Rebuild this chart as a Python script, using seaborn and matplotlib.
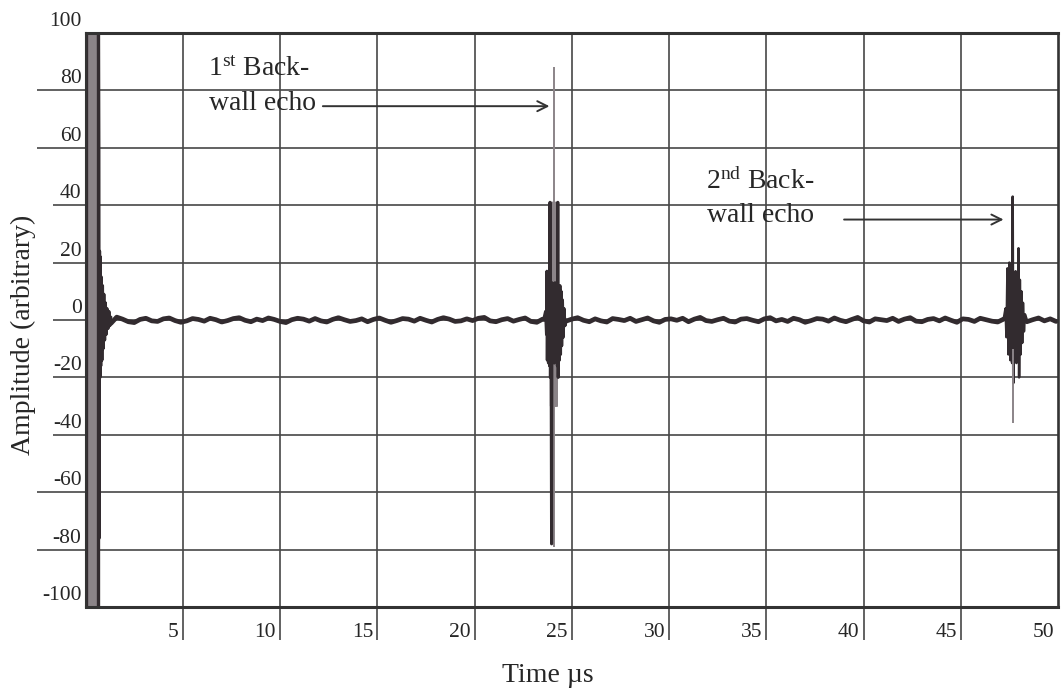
import numpy as np
import pandas as pd
import matplotlib
matplotlib.use("Agg")
import matplotlib.pyplot as plt
import matplotlib.transforms as mtransforms
import seaborn as sns

# ---------------- data ----------------
x_tick_values = [5, 10, 15, 20, 25, 30, 35, 40, 45]
x_label_values = [5, 10, 15, 20, 25, 30, 35, 40, 45, 50]
y_label_values = [-100, -80, -60, -40, -20, 0, 20, 40, 60, 80, 100]
y_tick_values = [-80, -60, -40, -20, 0, 20, 40, 60, 80]
y_tick_long = [-80, -60, 60, 80]

# baseline noise, sampled every 0.3 us from 1.0 us
noise_start = 1.0
noise_step = 0.3
noise_amp = [
    2.0, -1.2, 1.0, 0.3, -0.6, -0.9, 0.2, 0.6, -0.3, -0.5,
    0.4, 0.7, -0.2, -0.8, -0.3, 0.5, 0.2, -0.4, 0.6, 0.1,
    -0.7, -0.2, 0.5, 0.8, -0.1, -0.6, 0.3, -0.2, 0.7, 0.2,
    -0.5, -0.9, 0.1, 0.6, 0.3, -0.4, 0.5, -0.3, -0.7, 0.2,
    0.8, 0.1, -0.5, -0.2, 0.4, -0.6, 0.2, 0.7, -0.1, -0.8,
    -0.2, 0.5, 0.3, -0.4, 0.6, -0.1, -0.7, 0.2, 0.8, 0.3,
    -0.5, -0.3, 0.4, -0.2, 0.6, 0.9, -0.3, -0.6, 0.1, 0.5,
    -0.4, 0.2, 0.7, -0.5, -0.8, 0.3, 0.1, -0.2, 0.6, -0.4,
    0.3, 0.8, -0.1, -0.6, 0.4, -0.3, -0.7, 0.5, 0.2, -0.2,
    0.6, -0.5, 0.1, 0.7, -0.3, -0.8, 0.2, 0.4, -0.1, 0.6,
    -0.6, 0.3, 0.9, -0.2, -0.5, 0.1, 0.6, -0.4, -0.7, 0.3,
    0.5, -0.1, -0.6, 0.4, 0.8, -0.3, 0.2, -0.5, 0.6, 0.1,
    -0.8, -0.2, 0.5, 0.3, -0.4, 0.7, -0.1, -0.6, 0.2, 0.9,
    -0.3, -0.7, 0.4, 0.1, -0.2, 0.6, -0.5, 0.3, 0.8, -0.4,
    -0.6, 0.2, 0.5, -0.3, 0.7, -0.1, -0.8, 0.4, 0.2, -0.5,
    0.6, 0.1, -0.4, -0.7, 0.3, 0.8, -0.2, 0.5, -0.6, 0.1,
    0.7, -0.3, 0.4, -0.5,
]

# initial (transmitter) pulse, saturated at +/-100
pulse_t = [0.02, 0.03, 0.05, 0.10, 0.12, 0.17, 0.19, 0.24, 0.26, 0.31, 0.33,
           0.38, 0.40, 0.45, 0.47, 0.52, 0.54, 0.59, 0.61, 0.64, 0.66]
pulse_amp = [0, 100, -100, -100, 100, 100, -100, -100, 100, 100, -100,
             -100, 100, 100, -100, -100, 100, 100, -100, -100, 100]
pulse_edges = [0.03, 0.66]

ring_t = [0.66, 0.68, 0.70, 0.72, 0.74, 0.76, 0.78, 0.81, 0.84, 0.87, 0.90,
          0.94, 0.98, 1.02, 1.06, 1.10, 1.15, 1.20, 1.25, 1.30]
ring_amp = [100, 60, -76, 24, -20, 22, -16, 15, -14, 12, -10,
            9, -7, 6, -5, 4, -3, 3, -2, 1]

# first back-wall echo: saturated inner part (light) and envelope (dark)
echo1_in_t = [23.88, 23.92, 23.96, 24.00, 24.04, 24.08, 24.12, 24.16,
              24.20, 24.24, 24.28]
echo1_in_amp = [41, -30, 41, -30, 41, -30, 41, -30, 41, -30, 41]
echo1_t = [23.55, 23.65, 23.70, 23.72, 23.74, 23.77, 23.80, 23.83, 23.86,
           23.88, 23.90, 23.93, 23.96, 23.98, 24.02, 24.06, 24.10, 24.14,
           24.18, 24.22, 24.26, 24.28, 24.30, 24.33, 24.36, 24.39, 24.42,
           24.45, 24.48, 24.52, 24.56, 24.60, 24.65, 24.72]
echo1_amp = [0, 3, -5, 17, -14, 16, -15, 14, -16, 41, -20, 12, -78, 13,
             -14, 12, -15, 13, -14, 12, -16, 41, -20, 12, -14, 12, -12, 10,
             -9, 7, -6, 4, -2, 0]
echo1_spike_t = 24.08
echo1_spike = [88, -79]

# second back-wall echo
echo2_t = [47.20, 47.30, 47.35, 47.40, 47.45, 47.50, 47.55, 47.60, 47.64,
           47.67, 47.70, 47.74, 47.78, 47.82, 47.86, 47.90, 47.94, 47.97,
           48.00, 48.04, 48.08, 48.12, 48.16, 48.20, 48.25, 48.30, 48.40]
echo2_amp = [0, 4, -6, 18, -12, 20, -14, 18, -15, 43, -22, 16, -14, 17, -15,
             16, -14, 25, -20, 14, -12, 10, -8, 6, -4, 2, 0]
echo2_spike_t = 47.70
echo2_spike = [-10, -36]

# annotations
ann1_lines = ["1$^{\\mathrm{st}}$ Back-", "wall echo"]
ann1_pos = [(6.3, 85), (6.35, 73)]
arrow1 = ((12.2, 74.5), (23.85, 74.5))
ann2_lines = ["2$^{\\mathrm{nd}}$ Back-", "wall echo"]
ann2_pos = [(31.9, 45.8), (31.95, 34.3)]
arrow2 = ((39.0, 35.0), (47.2, 35.0))

# ---------------- style ----------------
sns.set_theme(style="white")
plt.rcParams["font.family"] = ["Liberation Serif", "DejaVu Serif"]
plt.rcParams["mathtext.fontset"] = "custom"
plt.rcParams["mathtext.rm"] = "Liberation Serif"
plt.rcParams["mathtext.it"] = "Liberation Serif:italic"

GRID = "#474747"
TRACE = "#322b2f"
LIGHT = "#8b8488"
TEXT = "#262626"

fig = plt.figure(figsize=(10.63, 6.89), dpi=100)
W, H = 1063, 689
ax = fig.add_axes([85.6 / W, 82 / H, (1058 - 85.6) / W, (607 - 33) / H])
ax.set_xlim(0, 50)
ax.set_ylim(-100, 100)

# grid + ticks
ax.set_xticks(x_tick_values)
ax.set_yticks(y_tick_values)
ax.grid(True, color=GRID, lw=1.2)
ax.tick_params(axis="x", direction="out", length=24, width=1.2, color=GRID,
               labelbottom=False, bottom=True)
ax.tick_params(axis="y", direction="out", length=24, width=1.2, color=GRID,
               labelleft=False, left=True)
for tk, v in zip(ax.yaxis.get_major_ticks(), y_tick_values):
    tk.tick1line.set_markersize(35 if v in y_tick_long else 24)

for side, lw in [("top", 2.2), ("bottom", 2.2), ("right", 1.9), ("left", 1.5)]:
    ax.spines[side].set_visible(True)
    ax.spines[side].set_color("#333333")
    ax.spines[side].set_linewidth(lw)

# ---------------- traces ----------------
noise_t = noise_start + noise_step * np.arange(len(noise_amp))
base_df = pd.DataFrame({"t": np.concatenate([[0.7], noise_t]),
                        "a": np.concatenate([[0.0], noise_amp])})
sns.lineplot(data=base_df, x="t", y="a", sort=False, estimator=None,
             color=TRACE, lw=3.4, ax=ax)

sns.lineplot(x=pulse_t, y=pulse_amp, sort=False, estimator=None,
             color=LIGHT, lw=1.4, ax=ax)
for e in pulse_edges:
    ax.vlines(e, -100, 100, color=TRACE, lw=2.4)
sns.lineplot(x=ring_t, y=ring_amp, sort=False, estimator=None,
             color=TRACE, lw=2.2, ax=ax)

sns.lineplot(x=echo1_in_t, y=echo1_in_amp, sort=False, estimator=None,
             color=LIGHT, lw=1.3, ax=ax)
ax.vlines(echo1_spike_t, echo1_spike[1], echo1_spike[0], color=LIGHT, lw=1.4)
sns.lineplot(x=echo1_t, y=echo1_amp, sort=False, estimator=None,
             color=TRACE, lw=2.2, ax=ax)

sns.lineplot(x=echo2_t, y=echo2_amp, sort=False, estimator=None,
             color=TRACE, lw=1.8, ax=ax)
ax.vlines(echo2_spike_t, echo2_spike[1], echo2_spike[0], color=LIGHT, lw=1.4)

# ---------------- labels ----------------
xtrans = mtransforms.blended_transform_factory(ax.transData, ax.transAxes)
for v in x_label_values:
    ax.text(v, 0, str(v), ha="right", va="baseline", fontsize=15.5, color=TEXT,
            transform=mtransforms.offset_copy(xtrans, fig=fig, x=-4, y=-30,
                                              units="dots"))
ytrans = mtransforms.blended_transform_factory(ax.transAxes, ax.transData)
for v in y_label_values:
    ax.text(0, v, str(v), ha="right", va="baseline", fontsize=15.5, color=TEXT,
            transform=mtransforms.offset_copy(ytrans, fig=fig, x=-4, y=7,
                                              units="dots"))

fig.text(547.5 / W, (H - 682) / H, "Time µs", ha="center", va="baseline",
         fontsize=20, color=TEXT)
fig.text(23 / W, (H - 335) / H, "Amplitude (arbitrary)", ha="center",
         va="center", rotation=90, fontsize=20, color=TEXT)

for txt, (x, y) in zip(ann1_lines, ann1_pos):
    ax.text(x, y, txt, ha="left", va="baseline", fontsize=20, color=TEXT)
for txt, (x, y) in zip(ann2_lines, ann2_pos):
    ax.text(x, y, txt, ha="left", va="baseline", fontsize=20, color=TEXT)

for (s, e) in [arrow1, arrow2]:
    ax.annotate("", xy=e, xytext=s,
                arrowprops=dict(arrowstyle="->", color="#333333", lw=1.4,
                                mutation_scale=18, shrinkA=0, shrinkB=0))

ax.set_xlabel("")
ax.set_ylabel("")
fig.savefig("out.png", dpi=100)
